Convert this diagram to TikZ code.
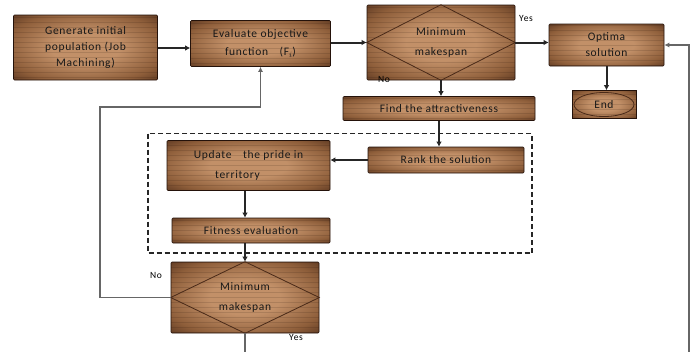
\documentclass[tikz,border=0pt]{standalone}
\usepackage{fontspec}
\setmainfont{Carlito}[LetterSpace=6]
\usetikzlibrary{arrows.meta,calc}
\definecolor{woodlight}{HTML}{C29068}
\definecolor{woodmid}{HTML}{8E5E3A}
\definecolor{wooddark}{HTML}{4A2A18}
\definecolor{woodedge}{HTML}{24120A}
\pgfdeclareradialshading{woodrad}{\pgfpoint{0bp}{0bp}}{%
  color(0bp)=(woodlight); color(12bp)=(woodlight); color(28bp)=(woodmid);
  color(40bp)=(wooddark); color(50bp)=(woodedge)}
\tikzset{
  wood/.style={rectangle, shading=woodrad, draw=woodedge,
    line width=0.6pt, rounded corners=1pt, font=\fontsize{11.5}{16}\selectfont,
    align=center, text=black!90, inner sep=2pt,
    path picture={\foreach \k in {-40,-35,...,40}{\draw[woodedge, opacity=0.14, line width=0.4pt]
      ($(path picture bounding box.west)+(0,\k)$) -- ($(path picture bounding box.east)+(0,\k)$);}}},
  flow/.style={line width=2pt, draw=black!85, -{Latex[length=5pt,width=5.5pt]}},
  back/.style={line width=1.3pt, draw=black!60, -{Latex[length=5pt,width=5pt]}},
  lbl/.style={font=\fontsize{9.5}{10}\selectfont, text=black, inner sep=0pt},
  diam/.style={draw=wooddark, line width=0.8pt}
}
\begin{document}
\begin{tikzpicture}[x=1pt,y=-1pt]
\useasboundingbox (0,0) rectangle (696,351);
\clip (0,0) rectangle (696,351);
\fill[white] (0,0) rectangle (696,351);

\node[wood, minimum width=144, minimum height=65] (gen) at (85.5,47.5) {Generate initial\\population (Job\\Machining)};
\node[wood, minimum width=140, minimum height=46, font=\fontsize{11.5}{18}\selectfont] (eval) at (260.5,43.5) {Evaluate objective\\function\quad (F$_i$)};
\node[wood, minimum width=148, minimum height=75, font=\fontsize{11.5}{20}\selectfont] (min1) at (441,42.5) {Minimum\\makespan};
\draw[diam] (min1.west) -- (min1.north) -- (min1.east) -- (min1.south) -- cycle;
\node[wood, minimum width=115, minimum height=42] (opt) at (606.5,45) {Optima\\solution};
\node[wood, minimum width=64, minimum height=28, rounded corners=0pt] (end) at (604,104.5) {End};
\draw[diam] (end.center) ellipse (30 and 12);
\node[wood, minimum width=192, minimum height=24, font=\fontsize{11.5}{12}\selectfont] (find) at (439,108.5) {Find the attractiveness};

\draw[dashed, dash pattern=on 5pt off 3pt, line width=1.3pt, black!85] (148,133.5) rectangle (532,253);

\node[wood, minimum width=163, minimum height=50, font=\fontsize{11.5}{20}\selectfont] (upd) at (248.5,165.5) {Update\quad the pride in\\territory\hspace*{22pt}};
\node[wood, minimum width=156, minimum height=26] (rank) at (446,160) {Rank the solution};
\node[wood, minimum width=158, minimum height=25] (fit) at (251,230.5) {Fitness evaluation};
\node[wood, minimum width=148, minimum height=71, font=\fontsize{11.5}{20}\selectfont] (min2) at (245,297.5) {Minimum\\makespan};
\draw[diam] (min2.west) -- (min2.north) -- (min2.east) -- (min2.south) -- cycle;

\draw[flow] (gen.east |- 0,48) -- (eval.west |- 0,48);
\draw[flow] (eval.east |- min1.west) -- (min1.west);
\draw[flow] (min1.east) -- (min1.east -| opt.west);
\draw[flow] (min1.south) -- (min1.south |- find.north);
\draw[flow] (find.south) -- (find.south |- rank.north);
\draw[flow] (rank.west) -- (rank.west -| upd.east);
\draw[flow] (upd.south -| min2.north) -- (fit.north -| min2.north);
\draw[flow] (fit.south -| min2.north) -- (min2.north);
\draw[flow] (opt.south) -- (opt.south |- end.north);

\coordinate (fbl) at (100,107);
\draw[back] (min2.west) -| (fbl) -| (eval.south);
\coordinate (yb) at (245,365);
\coordinate (yr) at (689,365);
\draw[back] (min2.south) -- (yb) -- (yr) |- (opt.east);

\node[lbl] (yes1) at (526,18) {Yes};
\node[lbl] (no1) at (384,79) {No};
\node[lbl] (no2) at (156,275) {No};
\node[lbl] (yes2) at (296,337) {Yes};
\end{tikzpicture}
\end{document}
